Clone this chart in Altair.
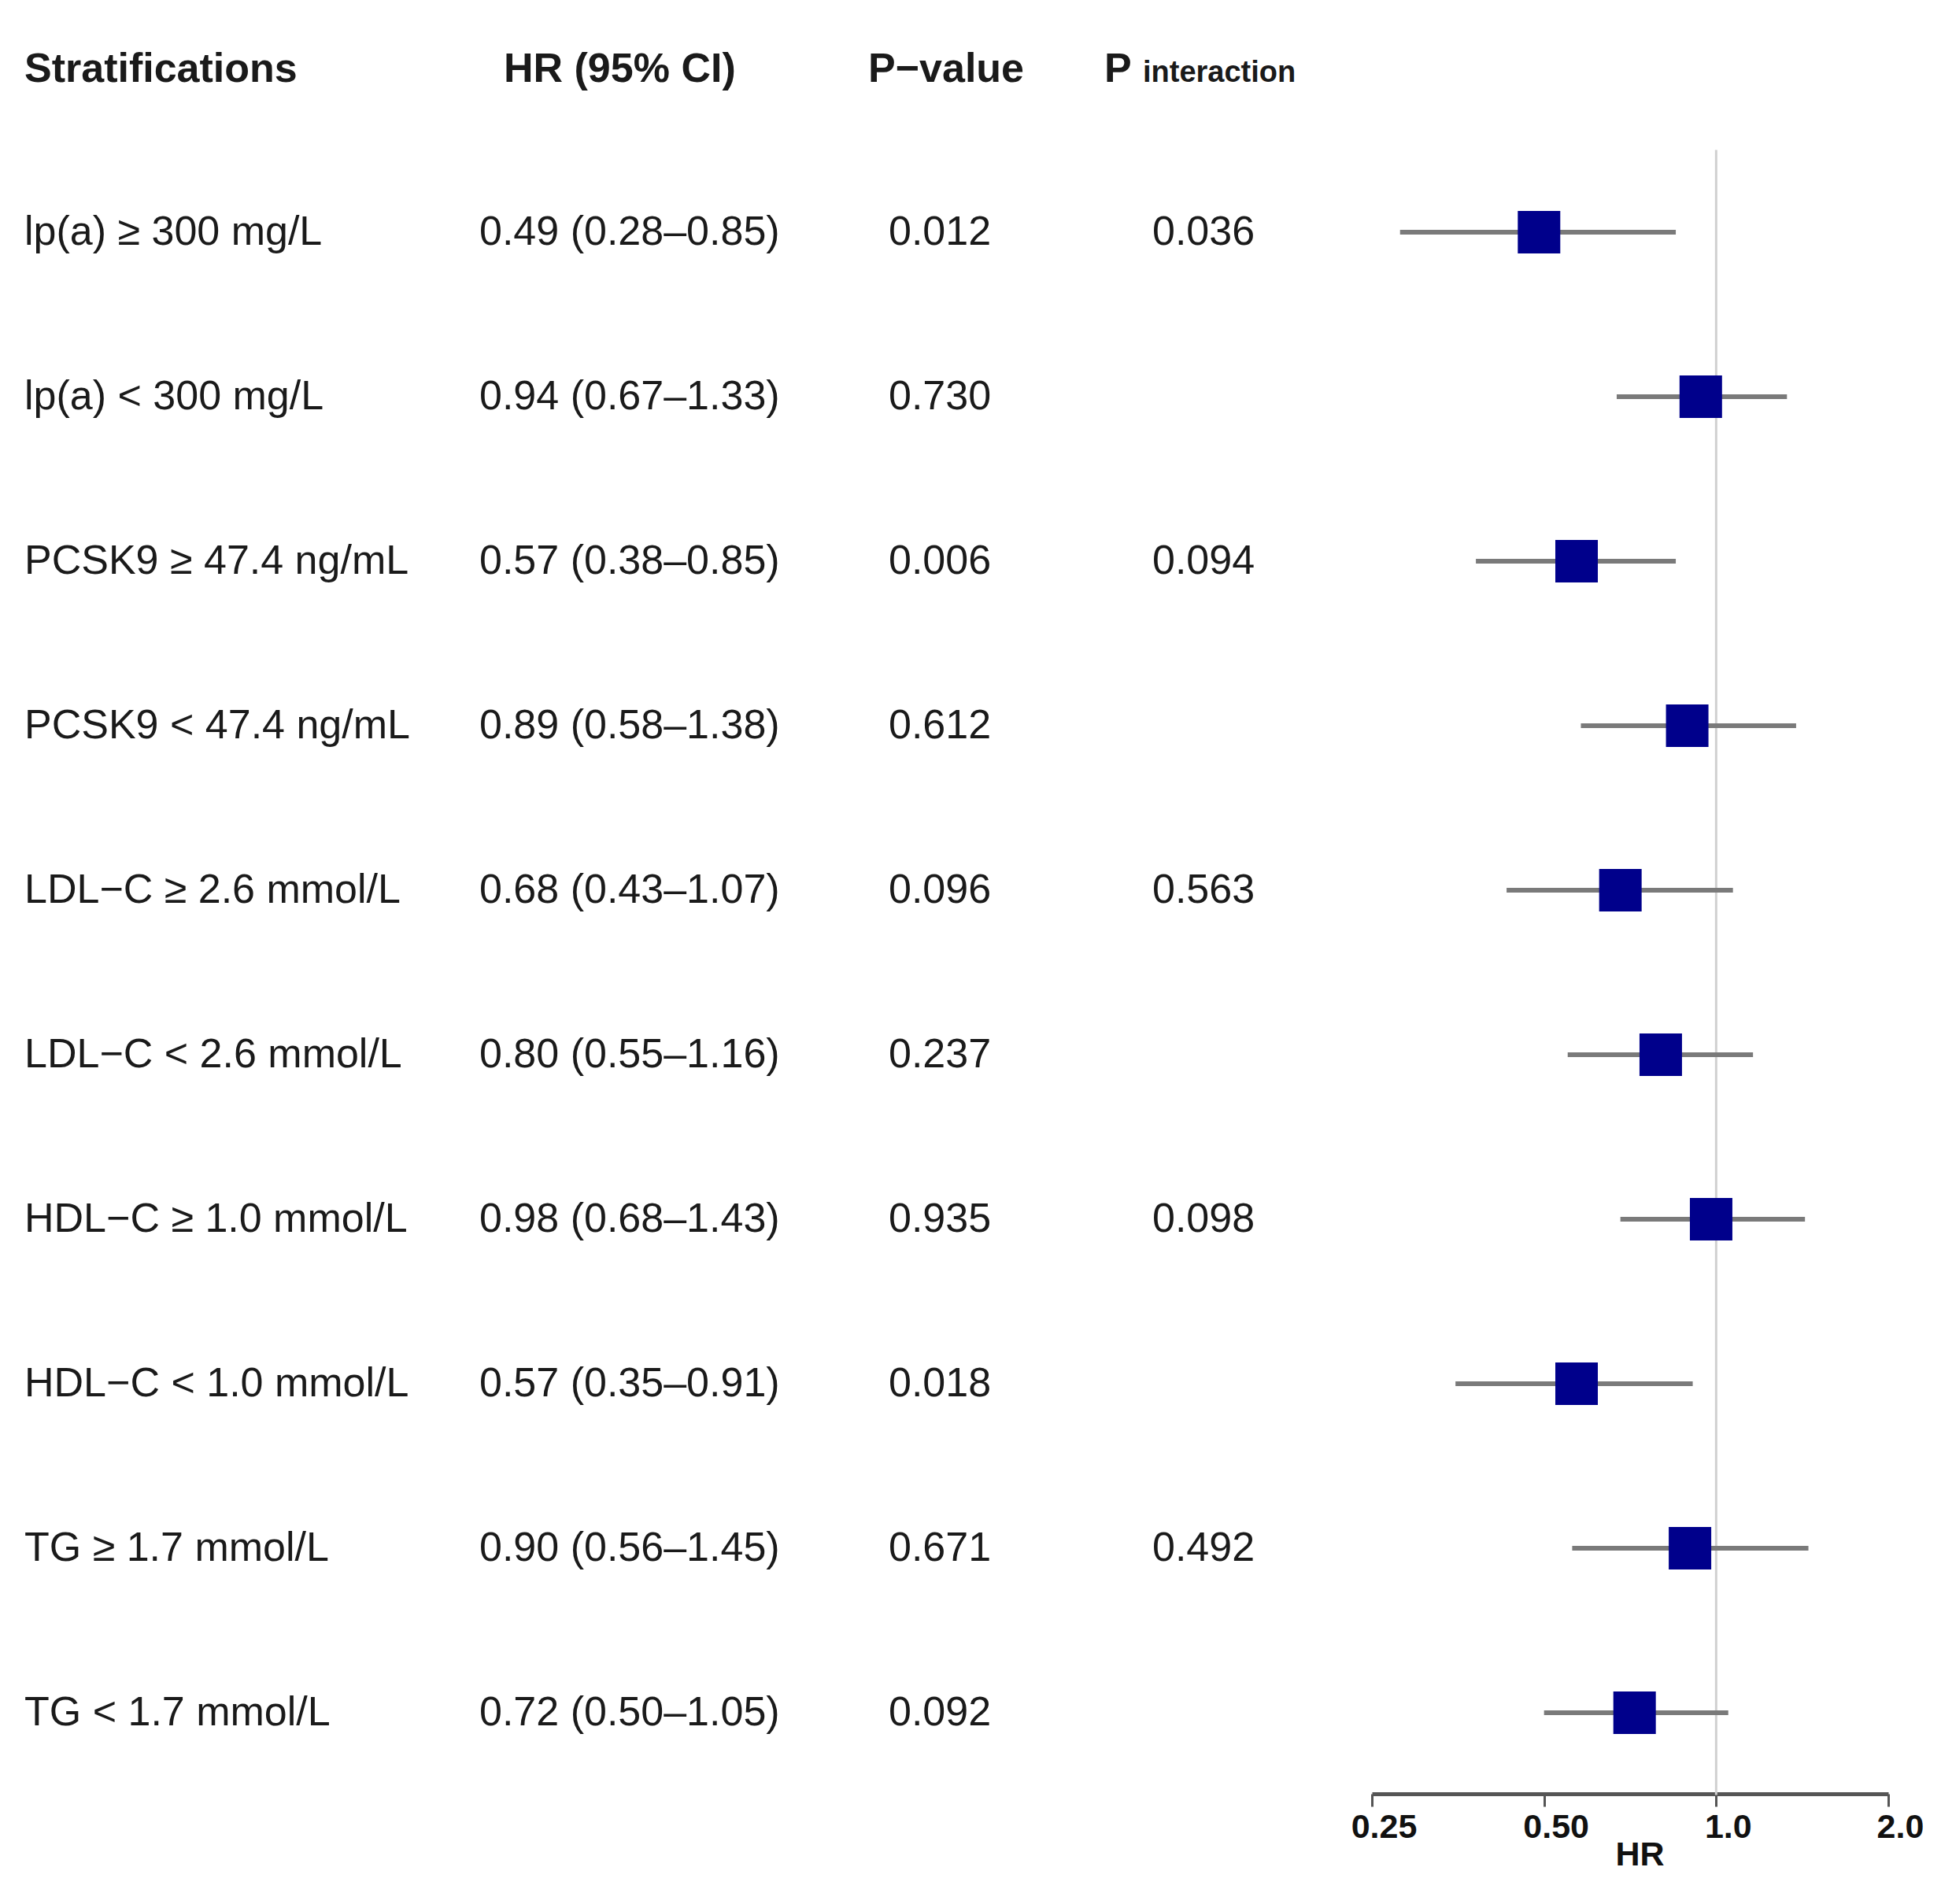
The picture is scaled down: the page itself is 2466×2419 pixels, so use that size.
import altair as alt
import pandas as pd

# ---------------- data ----------------
labels = ["lp(a) ≥ 300 mg/L", "lp(a) < 300 mg/L", "PCSK9 ≥ 47.4 ng/mL", "PCSK9 < 47.4 ng/mL",
          "LDL−C ≥ 2.6 mmol/L", "LDL−C < 2.6 mmol/L", "HDL−C ≥ 1.0 mmol/L", "HDL−C < 1.0 mmol/L",
          "TG ≥ 1.7 mmol/L", "TG < 1.7 mmol/L"]
hr = [0.49, 0.94, 0.57, 0.89, 0.68, 0.80, 0.98, 0.57, 0.90, 0.72]
lo = [0.28, 0.67, 0.38, 0.58, 0.43, 0.55, 0.68, 0.35, 0.56, 0.50]
hi = [0.85, 1.33, 0.85, 1.38, 1.07, 1.16, 1.43, 0.91, 1.45, 1.05]
p_value = ["0.012", "0.730", "0.006", "0.612", "0.096", "0.237", "0.935", "0.018", "0.671", "0.092"]
p_inter = ["0.036", "", "0.094", "", "0.563", "", "0.098", "", "0.492", ""]
tick_values = [0.25, 0.5, 1.0, 2.0]
tick_labels = ["0.25", "0.50", "1.0", "2.0"]
ref_value = 1.0

df = pd.DataFrame({
    "row": list(range(1, len(labels) + 1)),
    "label": labels,
    "hr": hr,
    "lo": lo,
    "hi": hi,
    "hrtext": [f"{h:.2f} ({l:.2f}–{u:.2f})" for h, l, u in zip(hr, lo, hi)],
    "p": p_value,
    "pint": p_inter,
})

FONT = "Liberation Sans"
TXT = "#1a1a1a"

label_expr = " : ".join(f"datum.value == {v} ? '{t}'" for v, t in zip(tick_values, tick_labels)) + " : ''"

xscale = alt.Scale(type="log", domain=[0.25, 2.0], range=[1735, 2391], nice=False, zero=False)
yscale = alt.Scale(domain=[0, 10], range=[78, 2168], nice=False, zero=False)

xaxis = alt.Axis(
    values=tick_values, labelExpr=label_expr, title="HR", grid=False,
    domainColor="#555555", domainWidth=5, tickColor="#555555", tickWidth=3, tickSize=16,
    labelFont=FONT, labelFontSize=43, labelFontWeight="bold", labelColor="#111111",
    labelPadding=5, labelOffset=15, labelFlush=False, labelOverlap=False,
    titleFont=FONT, titleFontSize=43, titleFontWeight="bold", titleColor="#111111",
    titleX=2075, titleY=56, titleAlign="center", titleBaseline="top",
)

base = alt.Chart(df)

ref = alt.Chart(pd.DataFrame({"x": [ref_value], "y": [0.5], "y2": [10.5]})).mark_rule(
    color="#d0d0d0", strokeWidth=3
).encode(
    x=alt.X("x:Q", scale=xscale, axis=xaxis, title="HR"),
    y=alt.Y("y:Q", scale=yscale, axis=None),
    y2="y2:Q",
)

ci = base.mark_rule(color="#7a7a7a", strokeWidth=6).encode(
    x=alt.X("lo:Q", scale=xscale, axis=xaxis, title="HR"),
    x2="hi:Q",
    y=alt.Y("row:Q", scale=yscale, axis=None),
)

pts = base.mark_square(size=2916, color="#00008B", opacity=1).encode(
    x=alt.X("hr:Q", scale=xscale, axis=xaxis, title="HR"),
    y=alt.Y("row:Q", scale=yscale, axis=None),
)


def col_text(field, xpx):
    return base.mark_text(align="left", baseline="middle", font=FONT, fontSize=52, color=TXT).encode(
        x=alt.value(xpx), y=alt.Y("row:Q", scale=yscale, axis=None), text=f"{field}:N"
    )


def header(text, xpx, size=52):
    return alt.Chart(pd.DataFrame({"t": [text], "row": [0]})).mark_text(
        align="left", baseline="alphabetic", dy=18, font=FONT, fontSize=size,
        fontWeight="bold", color=TXT
    ).encode(x=alt.value(xpx), y=alt.Y("row:Q", scale=yscale, axis=None), text="t:N")


chart = alt.layer(
    ref, ci, pts,
    col_text("label", 23), col_text("hrtext", 601), col_text("p", 1121), col_text("pint", 1456),
    header("Stratifications", 23), header("HR (95% CI)", 632), header("P−value", 1095),
    header("P", 1395), header("interaction", 1444, 38),
).properties(width=2450, height=2271, padding=0).configure_view(stroke=None)

chart.save("out.html", embed_options={"renderer": "svg", "actions": False})
